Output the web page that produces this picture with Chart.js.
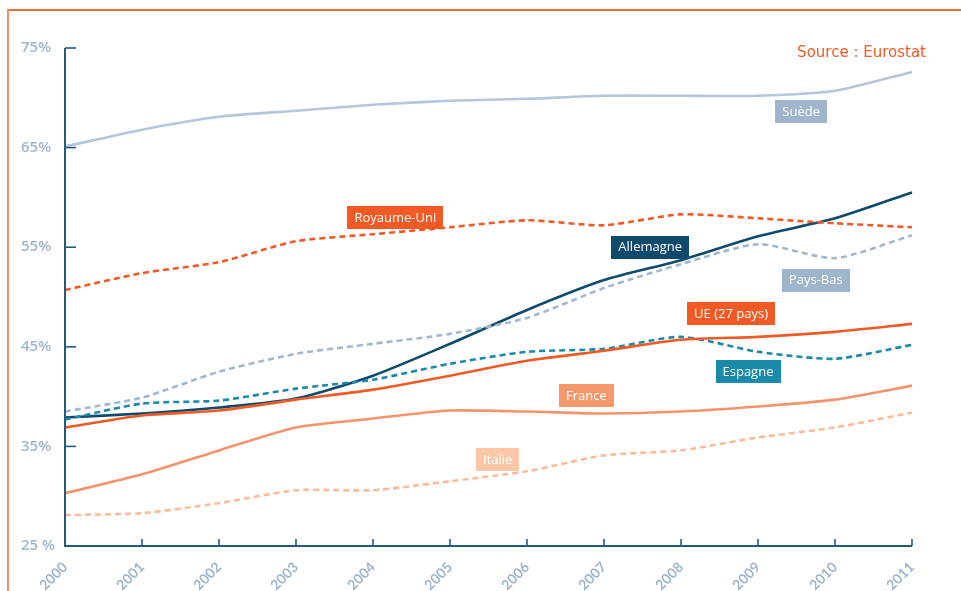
<!DOCTYPE html>
<html lang="fr">
<head>
<meta charset="utf-8">
<script src="https://cdn.jsdelivr.net/npm/chart.js@4.4.1/dist/chart.umd.min.js"></script>
<style>
  html, body { margin: 0; padding: 0; background: #fff; }
  #wrap { position: relative; width: 961px; height: 591px; }
</style>
</head>
<body>
<div id="wrap"><canvas id="chart" width="961" height="591"></canvas></div>
<script>
// Taux d'emploi des 55-64 ans (%), 2000-2011
const years = ['2000', '2001', '2002', '2003', '2004', '2005', '2006', '2007', '2008', '2009', '2010', '2011'];
const suede      = [65.1, 66.8, 68.1, 68.7, 69.3, 69.7, 69.9, 70.2, 70.2, 70.2, 70.7, 72.6];
const royaumeUni = [50.7, 52.4, 53.5, 55.6, 56.3, 57.0, 57.7, 57.2, 58.3, 57.9, 57.4, 57.0];
const allemagne  = [37.9, 38.3, 38.9, 39.8, 42.1, 45.3, 48.7, 51.7, 53.7, 56.1, 57.9, 60.5];
const paysBas    = [38.5, 39.9, 42.5, 44.3, 45.3, 46.3, 47.9, 50.9, 53.3, 55.3, 53.9, 56.2];
const espagne    = [37.7, 39.3, 39.6, 40.8, 41.7, 43.3, 44.5, 44.8, 46.0, 44.5, 43.8, 45.2];
const ue27       = [36.9, 38.1, 38.6, 39.7, 40.7, 42.1, 43.6, 44.6, 45.7, 46.0, 46.5, 47.3];
const france     = [30.3, 32.2, 34.6, 36.9, 37.8, 38.6, 38.5, 38.3, 38.5, 39.0, 39.7, 41.1];
const italie     = [28.1, 28.3, 29.3, 30.6, 30.6, 31.5, 32.5, 34.1, 34.6, 35.9, 36.9, 38.4];
const yTicks     = [25, 35, 45, 55, 65, 75];

const ORANGE = '#f15a24';
const BLUEGREY = '#a3b8ce';
const AXIS = '#235c7a';

// étiquettes des séries : position en coordonnées des axes (index année, %)
const tags = [
  { text: 'Suède',        x: 9.56, y: 68.6, bg: '#9fb5cc' },
  { text: 'Royaume-Uni',  x: 4.29, y: 58.0, bg: ORANGE },
  { text: 'Allemagne',    x: 7.60, y: 55.0, bg: '#0e4a6b' },
  { text: 'Pays-Bas',     x: 9.75, y: 51.7, bg: '#9fb5cc' },
  { text: 'UE (27 pays)', x: 8.65, y: 48.3, bg: ORANGE },
  { text: 'Espagne',      x: 8.87, y: 42.5, bg: '#1a8aab' },
  { text: 'France',       x: 6.77, y: 40.1, bg: '#f5996d' },
  { text: 'Italie',       x: 5.62, y: 33.7, bg: '#fbc6a6' },
];

function serie(data, color, dashed) {
  return {
    data: data,
    borderColor: color,
    borderWidth: 2.6,
    borderDash: dashed ? [6, 4] : [],
    pointRadius: 0,
    tension: 0.22,
    clip: false,
    fill: false,
  };
}

// cadre orange + axes avec graduations vers l'intérieur
const frameAndAxes = {
  id: 'frameAndAxes',
  beforeDraw(chart) {
    const ctx = chart.ctx;
    ctx.save();
    ctx.lineWidth = 2;
    ctx.strokeStyle = '#f26a3b';
    ctx.beginPath();
    ctx.moveTo(8, 10);
    ctx.lineTo(chart.width, 10);
    ctx.stroke();
    ctx.strokeStyle = '#f38d6b';
    ctx.beginPath();
    ctx.moveTo(8, 9);
    ctx.lineTo(8, chart.height);
    ctx.stroke();

    ctx.fillStyle = ORANGE;
    ctx.font = '15px "DejaVu Sans"';
    ctx.textAlign = 'right';
    ctx.textBaseline = 'alphabetic';
    ctx.fillText('Source : Eurostat', 926, 57);
    ctx.restore();
  },
  afterDraw(chart) {
    const { ctx, chartArea: a, scales } = chart;
    ctx.save();
    ctx.strokeStyle = AXIS;
    ctx.lineWidth = 2;
    ctx.beginPath();
    ctx.moveTo(a.left, scales.y.getPixelForValue(75));
    ctx.lineTo(a.left, a.bottom);
    ctx.lineTo(a.right, a.bottom);
    ctx.stroke();
    ctx.lineWidth = 1.6;
    yTicks.forEach((v) => {
      const y = scales.y.getPixelForValue(v);
      ctx.beginPath();
      ctx.moveTo(a.left, y);
      ctx.lineTo(a.left + 11, y);
      ctx.stroke();
    });
    years.forEach((_, i) => {
      const x = scales.x.getPixelForValue(i);
      ctx.beginPath();
      ctx.moveTo(x, a.bottom);
      ctx.lineTo(x, a.bottom - 7);
      ctx.stroke();
    });
    ctx.restore();
  },
};

// étiquettes colorées des pays
const seriesTags = {
  id: 'seriesTags',
  afterDatasetsDraw(chart) {
    const { ctx, scales } = chart;
    ctx.save();
    ctx.font = '13px "Open Sans"';
    ctx.textAlign = 'center';
    ctx.textBaseline = 'middle';
    tags.forEach((t) => {
      const cx = scales.x.getPixelForValue(t.x);
      const cy = scales.y.getPixelForValue(t.y);
      const w = ctx.measureText(t.text).width + 14;
      const h = 23;
      ctx.fillStyle = t.bg;
      ctx.fillRect(Math.round(cx - w / 2), Math.round(cy - h / 2), Math.round(w), h);
      ctx.fillStyle = '#ffffff';
      ctx.fillText(t.text, cx, cy + 0.5);
    });
    ctx.restore();
  },
};

new Chart(document.getElementById('chart'), {
  type: 'line',
  data: {
    labels: years,
    datasets: [
      serie(suede, '#b4c6d9', false),
      serie(italie, '#fbbb98', true),
      serie(france, '#f5946a', false),
      serie(paysBas, BLUEGREY, true),
      serie(ue27, ORANGE, false),
      serie(espagne, '#1a8aab', true),
      serie(royaumeUni, ORANGE, true),
      serie(allemagne, '#0e4a6b', false),
    ],
  },
  options: {
    responsive: false,
    animation: false,
    layout: { padding: { top: 48, right: 49, left: 21, bottom: 0 } },
    plugins: { legend: { display: false }, tooltip: { enabled: false } },
    scales: {
      x: {
        offset: false,
        grid: { display: false },
        border: { display: false },
        afterFit: (s) => { s.height = 45; },
        ticks: {
          minRotation: 45,
          maxRotation: 45,
          autoSkip: false,
          padding: 5,
          color: '#9fb5cc',
          font: { family: 'Lato', size: 14, weight: 'bold' },
        },
      },
      y: {
        min: 25,
        max: 75,
        grid: { display: false },
        border: { display: false },
        afterFit: (s) => { s.width = 44; },
        afterBuildTicks: (s) => { s.ticks = yTicks.map((v) => ({ value: v })); },
        ticks: {
          crossAlign: 'far',
          padding: 0,
          color: '#9fb5cc',
          font: { family: 'Open Sans', size: 15, weight: '600' },
          callback: (v) => (v === 25 ? '25 %' : v + '%'),
        },
      },
    },
  },
  plugins: [frameAndAxes, seriesTags],
});
</script>
</body>
</html>
